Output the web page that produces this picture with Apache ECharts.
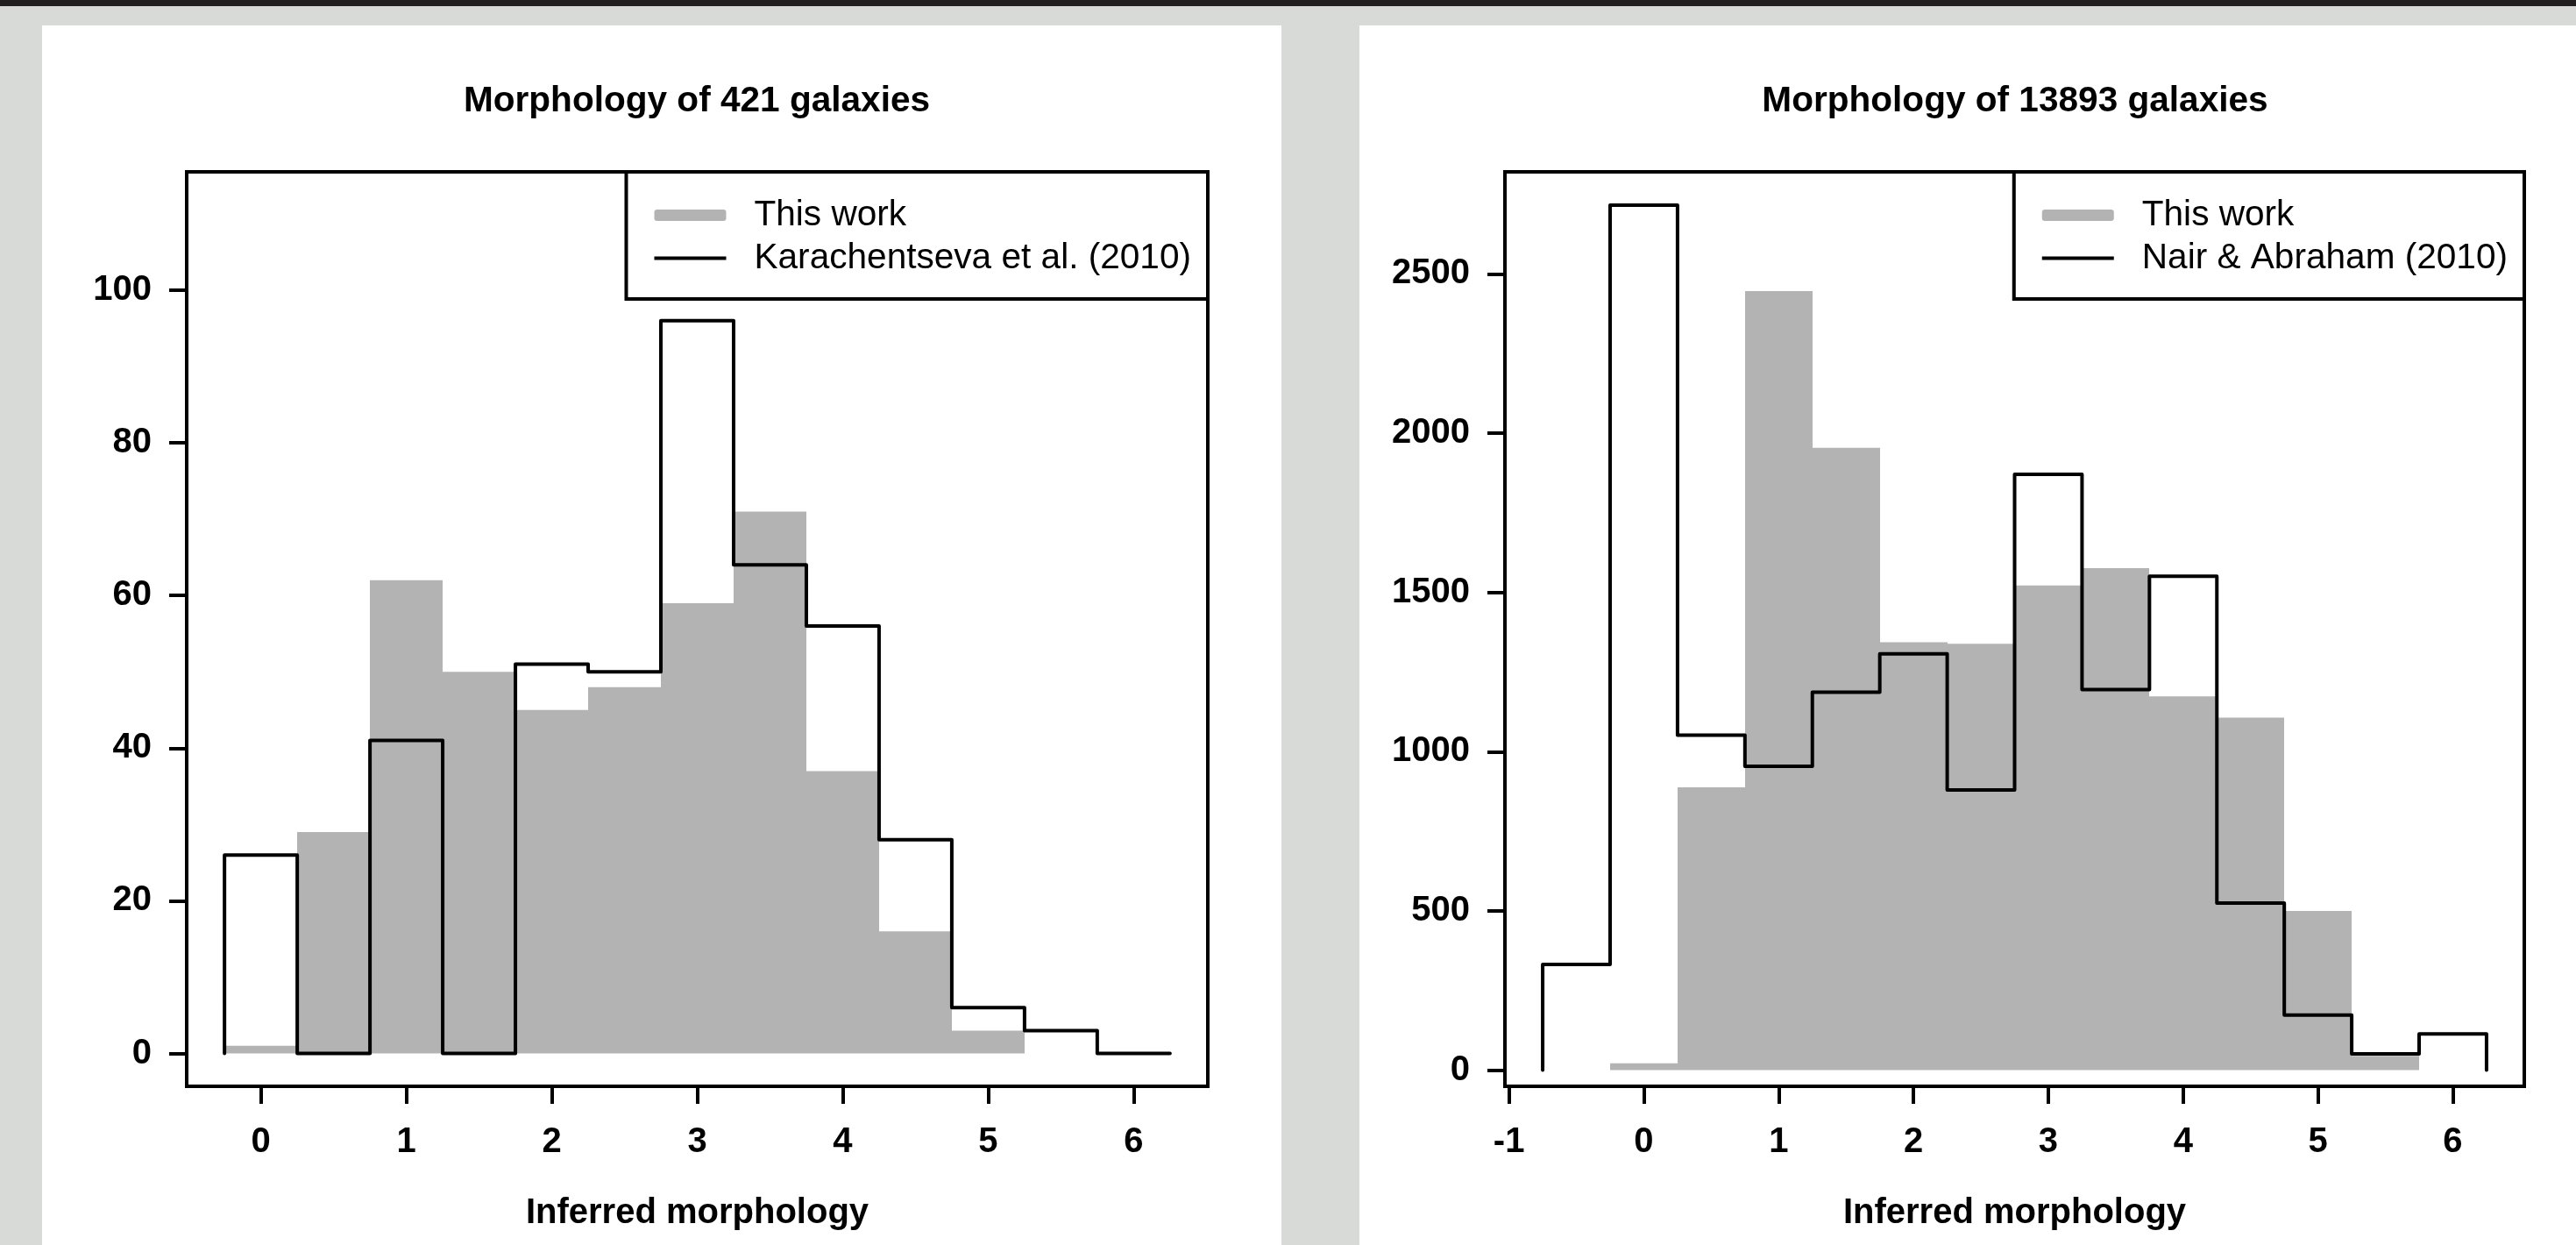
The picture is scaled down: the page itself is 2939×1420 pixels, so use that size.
<!DOCTYPE html>
<html>
<head>
<meta charset="utf-8">
<script src="https://cdn.jsdelivr.net/npm/echarts@6/dist/echarts.min.js"></script>
<style>
html, body { margin:0; padding:0; width:2939px; height:1420px; overflow:hidden; background:#d8dad7; }
#topbar { position:absolute; left:0; top:0; width:2939px; height:7px; background:#231f20; }
.panel { position:absolute; background:#ffffff; }
#chart { position:absolute; left:0; top:0; width:2939px; height:1420px; }
</style>
</head>
<body>
<div id="topbar"></div>
<div class="panel" style="left:48px;top:29px;width:1414px;height:1391px;"></div>
<div class="panel" style="left:1551px;top:29px;width:1388px;height:1391px;"></div>
<div id="chart"></div>
<script>
const FONT = '"Liberation Sans", Arial, Helvetica, sans-serif';

// ---- Left panel: 421 galaxies ----
const titleA = 'Morphology of 421 galaxies';
const binEdgesA = [-0.25, 0.25, 0.75, 1.25, 1.75, 2.25, 2.75, 3.25, 3.75, 4.25, 4.75, 5.25, 5.75, 6.25];
const thisWorkA = [1, 29, 62, 50, 45, 48, 59, 71, 37, 16, 3, 0, 0];
const karachentsevaA = [26, 0, 41, 0, 51, 50, 96, 64, 56, 28, 6, 3, 0];
const xTicksA = [0, 1, 2, 3, 4, 5, 6];
const yTicksA = [0, 20, 40, 60, 80, 100];

// ---- Right panel: 13893 galaxies ----
const titleB = 'Morphology of 13893 galaxies';
const binEdgesB = [-0.75, -0.25, 0.25, 0.75, 1.25, 1.75, 2.25, 2.75, 3.25, 3.75, 4.25, 4.75, 5.25, 5.75, 6.25];
const thisWorkB = [0, 22, 888, 2446, 1954, 1344, 1339, 1522, 1576, 1174, 1107, 500, 45, 0];
const nairAbrahamB = [332, 2716, 1052, 954, 1187, 1307, 880, 1871, 1195, 1551, 525, 173, 51, 114];
const xTicksB = [-1, 0, 1, 2, 3, 4, 5, 6];
const yTicksB = [0, 500, 1000, 1500, 2000, 2500];

const nameThisWork = 'This work';
const nameKar = 'Karachentseva et al. (2010)';
const nameNair = 'Nair & Abraham (2010)';
const xAxisTitle = 'Inferred morphology';

const GRAY = '#b3b3b3';
const W = 2939;

function histRows(edges, counts) {
  return counts.map((c, i) => [edges[i], edges[i + 1], c]);
}
function stepPoints(edges, counts) {
  const pts = [[edges[0], 0]];
  counts.forEach((c, i) => pts.push([edges[i], c]));
  pts.push([edges[edges.length - 1], 0]);
  return pts;
}
function histRender(params, api) {
  const x0 = api.value(0), x1 = api.value(1), v = api.value(2);
  const pTop = api.coord([x0, v]);
  const pBot = api.coord([x1, 0]);
  const l = Math.round(pTop[0]), r = Math.round(pBot[0]);
  return { type: 'rect', shape: { x: l, y: pTop[1], width: r - l, height: pBot[1] - pTop[1] }, style: { fill: GRAY } };
}

const tickStyle = { show: true, inside: false, length: 20, lineStyle: { color: '#000', width: 4 } };
const labelStyle = { fontSize: 40, fontWeight: 'bold', color: '#000', fontFamily: FONT };

function xAxis(idx, min, max, ticks) {
  return {
    type: 'value', gridIndex: idx, position: 'bottom', min: min, max: max,
    axisLine: { show: false, onZero: false },
    splitLine: { show: false },
    axisTick: Object.assign({ customValues: ticks }, tickStyle),
    axisLabel: Object.assign({ customValues: ticks, margin: 44, formatter: v => String(v) }, labelStyle),
    name: xAxisTitle, nameLocation: 'middle', nameGap: 125,
    nameTextStyle: labelStyle
  };
}
function yAxis(idx, min, max, ticks) {
  return {
    type: 'value', gridIndex: idx, position: 'left', min: min, max: max,
    axisLine: { show: false, onZero: false },
    splitLine: { show: false },
    axisTick: Object.assign({ customValues: ticks }, tickStyle),
    axisLabel: Object.assign({ customValues: ticks, margin: 40, formatter: v => String(v) }, labelStyle)
  };
}
function legend(rightEdge, secondName) {
  return {
    right: W - rightEdge, top: 196, orient: 'vertical',
    itemWidth: 82, itemHeight: 13, itemGap: 0,
    padding: [25, 19, 22, 32],
    borderColor: '#000', borderWidth: 4, backgroundColor: '#fff',
    selectedMode: false, z: 10,
    textStyle: { fontSize: 40.6, fontFamily: FONT, color: '#000', lineHeight: 49, padding: [0, 0, 0, 27] },
    data: [
      { name: nameThisWork, icon: 'roundRect', itemStyle: { color: GRAY, borderWidth: 0 } },
      { name: secondName, icon: 'path://M0,0L20,0L20,1L0,1Z', itemStyle: { color: '#000', borderWidth: 0 } }
    ]
  };
}
function title(text, cx) {
  return { text: text, left: cx, top: 95, textAlign: 'center', padding: 0,
    textStyle: { fontSize: 40.6, fontWeight: 'bold', fontFamily: FONT, color: '#000' } };
}

const gridStyle = { show: true, borderColor: '#000', borderWidth: 4, backgroundColor: 'transparent', containLabel: false, outerBoundsMode: 'none' };

const option = {
  animation: false,
  backgroundColor: 'transparent',
  title: [title(titleA, 795), title(titleB, 2299)],
  grid: [
    Object.assign({ left: 213, top: 196, width: 1165, height: 1043 }, gridStyle),
    Object.assign({ left: 1717, top: 196, width: 1163, height: 1043 }, gridStyle)
  ],
  xAxis: [xAxis(0, -0.51, 6.51, xTicksA), xAxis(1, -1.03, 6.53, xTicksB)],
  yAxis: [yAxis(0, -4.3, 115.5, yTicksA), yAxis(1, -50.6, 2820.6, yTicksB)],
  legend: [legend(1378, nameKar), legend(2880, nameNair)],
  series: [
    { type: 'custom', name: nameThisWork, xAxisIndex: 0, yAxisIndex: 0, data: histRows(binEdgesA, thisWorkA),
      encode: { x: [0, 1], y: 2 }, renderItem: histRender, itemStyle: { color: GRAY }, z: 2 },
    { type: 'line', name: nameKar, xAxisIndex: 0, yAxisIndex: 0, data: stepPoints(binEdgesA, karachentsevaA),
      step: 'end', symbol: 'none', showSymbol: false, clip: false, z: 3,
      lineStyle: { color: '#000', width: 4, cap: 'round', join: 'round' }, itemStyle: { color: '#000' } },
    { type: 'custom', name: nameThisWork, xAxisIndex: 1, yAxisIndex: 1, data: histRows(binEdgesB, thisWorkB),
      encode: { x: [0, 1], y: 2 }, renderItem: histRender, itemStyle: { color: GRAY }, z: 2 },
    { type: 'line', name: nameNair, xAxisIndex: 1, yAxisIndex: 1, data: stepPoints(binEdgesB, nairAbrahamB),
      step: 'end', symbol: 'none', showSymbol: false, clip: false, z: 3,
      lineStyle: { color: '#000', width: 4, cap: 'round', join: 'round' }, itemStyle: { color: '#000' } }
  ]
};

const chart = echarts.init(document.getElementById('chart'), null, { renderer: 'canvas', width: 2939, height: 1420 });
chart.setOption(option);
</script>
</body>
</html>
